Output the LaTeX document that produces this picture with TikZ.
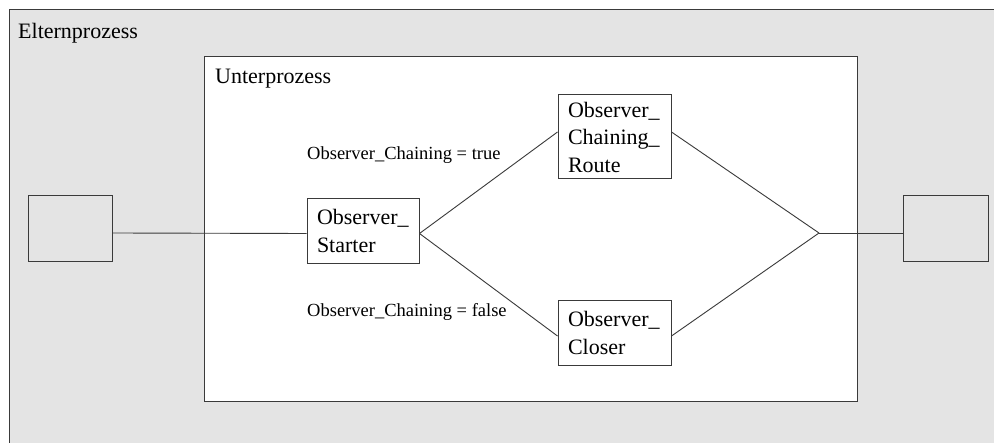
\documentclass[tikz,border=0pt]{standalone}
\usepackage{fontspec}
\setmainfont{LiberationSerif-Regular.ttf}
\usetikzlibrary{calc}
\definecolor{bggray}{HTML}{E4E4E4}
\definecolor{edge}{HTML}{3A3A3A}
\begin{document}
\begin{tikzpicture}[x=1pt,y=-1pt,
  every node/.style={font=\rmfamily\fontsize{22}{27.5}\selectfont},
  box/.style={draw=edge,line width=1pt,rectangle,inner sep=0pt,fill=white,
    align=left,text width=#1},
  conn/.style={draw=edge,line width=0.9pt},
  lbl/.style={font=\rmfamily\fontsize{18.5}{22}\selectfont,inner sep=0pt,anchor=base west}
]
\useasboundingbox (0,0) rectangle (994,443);
\begin{scope}
\clip (0,0) rectangle (994,443);
\draw[draw=edge,line width=1pt,fill=bggray] (9,10) rectangle (1010,460);
\end{scope}
\draw[draw=edge,line width=1pt,fill=white] (204,57) rectangle (857,402);
\node[lbl,font=\rmfamily\fontsize{22}{27}\selectfont] (eltern) at (18,39) {Elternprozess};
\node[lbl,font=\rmfamily\fontsize{22}{27}\selectfont] (unter) at (215,84) {Unterprozess};
% boxes
\node[draw=edge,line width=1pt,fill=bggray,minimum width=84pt,minimum height=66pt,inner sep=0pt] (lbox) at (70,229) {};
\node[draw=edge,line width=1pt,fill=bggray,minimum width=85pt,minimum height=66pt,inner sep=0pt] (rbox) at (945.5,229) {};
\node[box=92pt,minimum height=65pt,inner xsep=10pt] (starter) at (363,231) {Observer\_\\Starter};
\node[box=93pt,minimum height=84pt,inner xsep=10pt] (route) at (614.5,137) {Observer\_\\Chaining\_\\Route};
\node[box=93pt,minimum height=65pt,inner xsep=10pt] (closer) at (614.5,333) {Observer\_\\Closer};
\coordinate (j) at (819,233);
% labels
\node[lbl] (ltrue) at (307,160) {Observer\_Chaining = true};
\node[lbl] (lfalse) at (307,317) {Observer\_Chaining = false};
% connectors
\draw[conn] ([yshift=-4pt]lbox.east) -- ([yshift=-2.5pt]starter.west);
\draw[conn] ([yshift=-2.5pt]starter.east) -- ([yshift=5pt]route.west);
\draw[conn] ([yshift=-2.5pt]starter.east) -- ([yshift=-3pt]closer.west);
\draw[conn] ([yshift=5pt]route.east) -- (j);
\draw[conn] ([yshift=-3pt]closer.east) -- (j);
\draw[conn] (j) -- ([yshift=-4pt]rbox.west);
\end{tikzpicture}
\end{document}
